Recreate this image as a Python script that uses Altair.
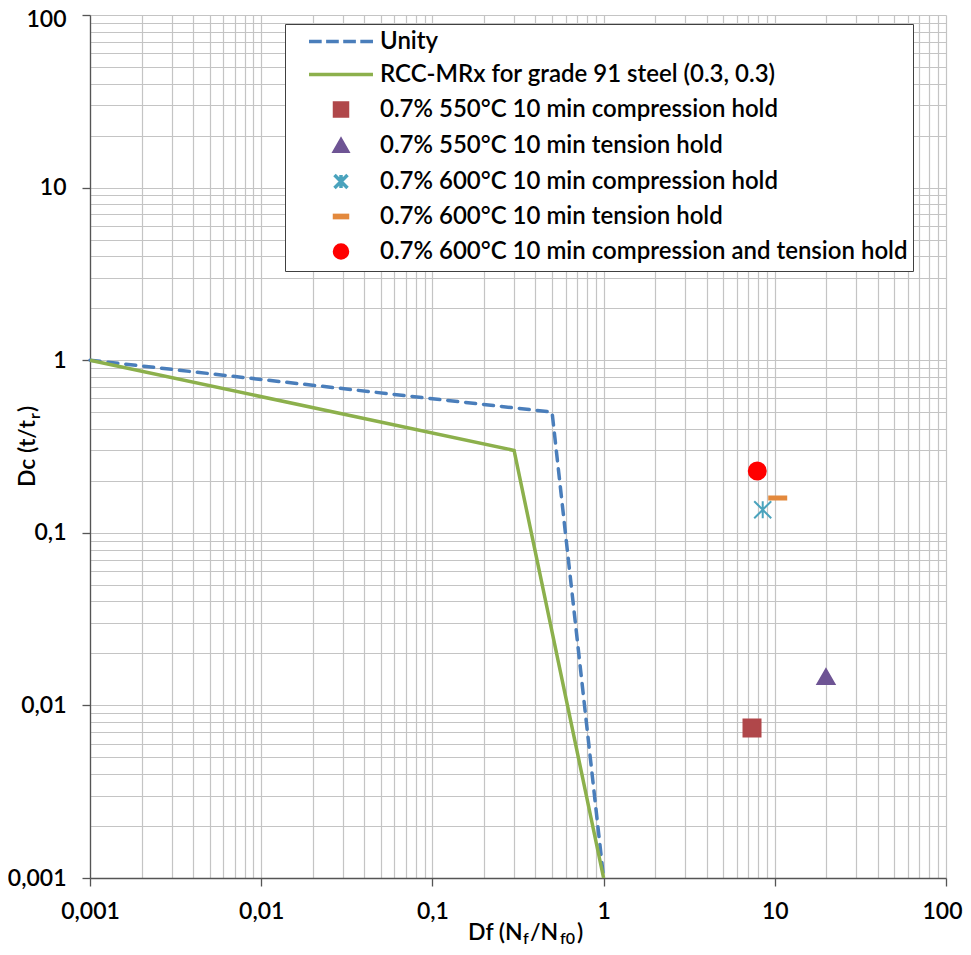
import altair as alt
import pandas as pd

# ---------------- data ----------------
unity_x = [0.001, 0.5, 1.0]
unity_y = [1.0, 0.5, 0.001]
rcc_x = [0.001, 0.3, 1.0]
rcc_y = [1.0, 0.3, 0.001]

series_names = [
    "Unity",
    "RCC-MRx for grade 91 steel (0.3, 0.3)",
    "0.7% 550°C 10 min compression hold",
    "0.7% 550°C 10 min tension hold",
    "0.7% 600°C 10 min compression hold",
    "0.7% 600°C 10 min tension hold",
    "0.7% 600°C 10 min compression and tension hold",
]
series_colors = ["#4A7EBB", "#8CB04C", "#B0474A", "#6E5494", "#4AA3BD", "#E3893D", "#FF0000"]

point_series = series_names[2:]
point_df = [7.36, 19.9, 8.5, 10.4, 7.9]
point_dc = [0.0074, 0.0147, 0.136, 0.159, 0.228]

axis_all = sorted(set([round(m * 10.0 ** e, 6) for e in range(-3, 2) for m in range(1, 10)] + [100]))

# ---------------- shapes ----------------
DASH_LINE = "M-4.92,0H-2.97M-2.29,0H-0.34M0.34,0H2.29M2.97,0H4.92"
SOLID_LINE = "M-4.92,0H4.92"
ASTERISK = "M-1,-1L1,1M-1,1L1,-1M0,-1V1"
BAR = "M-1,-0.17H1V0.17H-1Z"
series_shapes = [DASH_LINE, SOLID_LINE, "square", "triangle-up", ASTERISK, BAR, "circle"]

FONT = "Lato"
WEIGHT = 600
MAJOR = "abs(log(datum.value)/LN10 - round(log(datum.value)/LN10)) < 0.000001"
LABEL = MAJOR + " ? replace(format(datum.value, '~g'), '.', ',') : ''"

axis_common = dict(
    values=axis_all,
    grid=True,
    gridColor="#c4c4c4",
    gridWidth=1.2,
    domainColor="#555555",
    domainWidth=1.3,
    tickColor="#555555",
    tickWidth=1.3,
    tickSize=8,
    tickOpacity={"condition": {"test": MAJOR, "value": 1}, "value": 0},
    labelExpr=LABEL,
    labelFont=FONT,
    labelFontSize=23,
    labelFontWeight=WEIGHT,
    labelColor="black",
    labelOverlap=False,
    labelFlush=False,
    title=None,
)

x_enc = alt.X("x:Q", scale=alt.Scale(type="log", domain=[0.001, 100], nice=False),
              axis=alt.Axis(labelPadding=14,
                            labelOffset={"condition": {"test": "datum.value > 99", "value": -4}, "value": 0},
                            **axis_common))
y_enc = alt.Y("y:Q", scale=alt.Scale(type="log", domain=[0.001, 100], nice=False),
              axis=alt.Axis(labelPadding=16,
                            labelOffset={"condition": {"test": "datum.value > 99", "value": 4}, "value": 0},
                            **axis_common))

unity_df = pd.DataFrame({"x": unity_x, "y": unity_y, "i": range(len(unity_x))})
rcc_df = pd.DataFrame({"x": rcc_x, "y": rcc_y, "i": range(len(rcc_x))})
pts_df = pd.DataFrame({"x": point_df, "y": point_dc, "series": point_series})

unity = alt.Chart(unity_df).mark_line(
    color=series_colors[0], strokeWidth=3.5, strokeDash=[10, 8], strokeCap="round"
).encode(x=x_enc, y=y_enc, order="i:Q")

rcc = alt.Chart(rcc_df).mark_line(
    color=series_colors[1], strokeWidth=3.5
).encode(x=x_enc, y=y_enc, order="i:Q")

legend = alt.Legend(
    orient="none", legendX=195, legendY=9, title=None,
    labelFont=FONT, labelFontSize=24, labelFontWeight=WEIGHT, labelColor="black", labelLimit=2000,
    symbolSize=169, symbolStrokeWidth=3.5, symbolOffset=38.5, labelOffset=27,
    rowPadding=9, padding=5.5, strokeColor="#404040", fillColor="white",
)

sc = dict(domain=series_names, range=series_colors)
points = alt.Chart(pts_df).mark_point(filled=True, size=289, strokeWidth=2, opacity=1).encode(
    x=x_enc, y=y_enc,
    fill=alt.Fill("series:N", scale=alt.Scale(**sc), legend=legend),
    stroke=alt.Stroke("series:N", scale=alt.Scale(**sc), legend=legend),
    shape=alt.Shape("series:N", scale=alt.Scale(domain=series_names, range=series_shapes), legend=legend),
)

one = pd.DataFrame({"a": [0]})

def txt(s, x, y, size=23, angle=0):
    kw = dict(align="left", baseline="alphabetic", font=FONT, fontSize=size, fontWeight=WEIGHT,
              color="black", text=s)
    if angle:
        kw["angle"] = angle
    return alt.Chart(one).mark_text(**kw).encode(x=alt.value(x), y=alt.value(y))

# x axis title: Df (N_f/N_f0)
xt = [
    txt("Df (N", 378, 925),
    txt("f", 433, 929, size=16),
    txt("/N", 440, 925),
    txt("f0", 470, 929, size=16),
    txt(")", 487, 925),
]
# y axis title: Dc (t/t_r)
yt = [
    txt("Dc (t/t", -55, 472, angle=270),
    txt("r", -50, 404, size=16, angle=270),
    txt(")", -55, 397, angle=270),
]

chart = alt.layer(unity, rcc, points, *xt, *yt).properties(
    width=856, height=863,
    autosize=alt.AutoSizeParams(type="none"),
    padding={"left": 82, "top": 7, "right": 17, "bottom": 69},
    background="white",
).configure_view(stroke=None)

chart.save("out.html", embed_options={"renderer": "svg", "actions": False})
